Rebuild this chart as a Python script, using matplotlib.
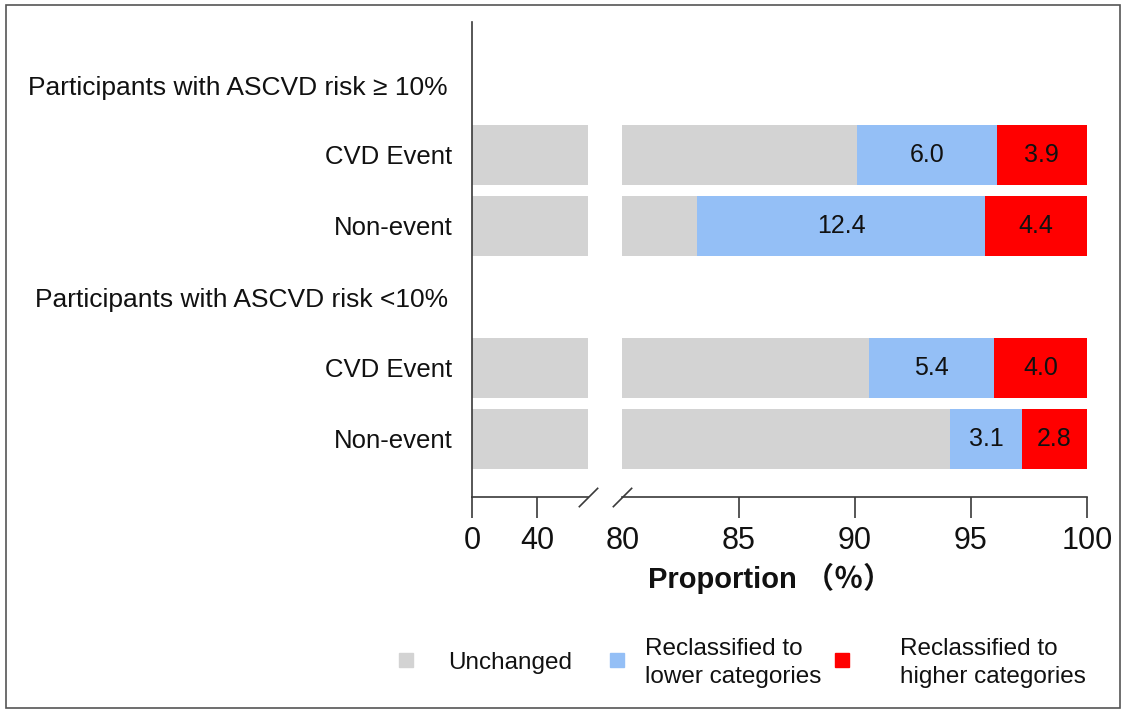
import matplotlib.pyplot as plt
from matplotlib.patches import Rectangle

# values (%)
groups = ["Participants with ASCVD risk \u2265 10%", "Participants with ASCVD risk <10%"]
rows = ["CVD Event", "Non-event", "CVD Event", "Non-event"]
unchanged = [90.1, 83.2, 90.6, 94.1]
lower = [6.0, 12.4, 5.4, 3.1]
higher = [3.9, 4.4, 4.0, 2.8]
legend_labels = ["Unchanged", "Reclassified to\nlower categories",
                 "Reclassified to\nhigher categories"]

c_grey, c_blue, c_red = "#d3d3d3", "#94bff6", "#ff0000"
ink = "#111111"
axis_col = "#3a3a3a"
fam = ["Liberation Sans", "DejaVu Sans"]
plt.rcParams["font.family"] = fam

bar_y = [0, 1, 3, 4]
head_y = [-0.94, 2.04]
W, H = 1124, 711

fig = plt.figure(figsize=(W / 100, H / 100), dpi=100)
ax1 = fig.add_axes([472 / W, 1 - 497 / H, (588 - 472) / W, 475 / H])
ax2 = fig.add_axes([622 / W, 1 - 497 / H, (1087 - 622) / W, 475 / H])

for ax in (ax1, ax2):
    ax.barh(bar_y, unchanged, height=0.845, color=c_grey)
    ax.barh(bar_y, lower, left=unchanged, height=0.845, color=c_blue)
    ax.barh(bar_y, higher, left=[u + l for u, l in zip(unchanged, lower)],
            height=0.845, color=c_red)
    ax.set_ylim(4.82, -1.87)
    for s in ("top", "right"):
        ax.spines[s].set_visible(False)
    ax.spines["bottom"].set_color(axis_col)
    ax.spines["bottom"].set_linewidth(1.2)
    ax.tick_params(axis="x", length=15, width=1.2, color=axis_col, pad=6,
                   labelsize=22, labelcolor=ink)

ax1.set_xlim(0, 71.4)
ax1.set_xticks([0, 40])
ax1.spines["left"].set_color(axis_col)
ax1.spines["left"].set_linewidth(1.2)
ax1.set_yticks(bar_y)
ax1.set_yticklabels(rows)
ax1.tick_params(axis="y", length=0, pad=14, labelsize=18.5, labelcolor=ink)
for g, y in zip(groups, head_y):
    ax1.annotate(g, xy=(0, y), xycoords=("axes fraction", "data"),
                 xytext=(-24, 0), textcoords="offset pixels",
                 ha="right", va="center", fontsize=19, color=ink)

ax2.set_xlim(79.96, 100)
ax2.set_xticks([80, 85, 90, 95, 100])
ax2.xaxis.get_major_ticks()[0].tick1line.set_visible(False)
ax2.spines["left"].set_visible(False)
ax2.set_yticks([])

# value labels on the coloured segments
for y, u, l, h in zip(bar_y, unchanged, lower, higher):
    ax2.text(u + l / 2, y, f"{l:.1f}", ha="center", va="center",
             fontsize=18, color=ink)
    ax2.text(u + l + h / 2, y, f"{h:.1f}", ha="center", va="center",
             fontsize=18, color=ink)

# axis break marks
brk = dict(marker=[(-1, -1), (1, 1)], markersize=14, linestyle="none",
           color=axis_col, mec=axis_col, mew=1.2, clip_on=False)
ax1.plot([1], [0], transform=ax1.transAxes, **brk)
ax2.plot([0], [0], transform=ax2.transAxes, **brk)

fig.text(648 / W, 1 - 578 / H, "Proportion \uff08\uff05\uff09", ha="left", va="center",
         fontsize=21, fontweight="bold", color=ink,
         family=["Liberation Sans", "Noto Sans CJK SC"])

# legend
sq = 14
for (cx, tx), col, lab in zip([(406, 448), (617, 645), (842, 900)],
                              [c_grey, c_blue, c_red], legend_labels):
    fig.add_artist(Rectangle(((cx - sq / 2) / W, 1 - (660 + sq / 2) / H),
                             sq / W, sq / H, transform=fig.transFigure,
                             color=col))
    fig.text(tx / W, 1 - 663 / H, lab, ha="left", va="center", fontsize=17.5,
             color=ink, linespacing=1.3)

# outer frame
fig.add_artist(Rectangle((6 / W, 1 - 708 / H), 1114 / W, 703 / H,
                         transform=fig.transFigure, fill=False,
                         edgecolor="#555555", linewidth=1.2))

fig.savefig("out.png", dpi=100)
